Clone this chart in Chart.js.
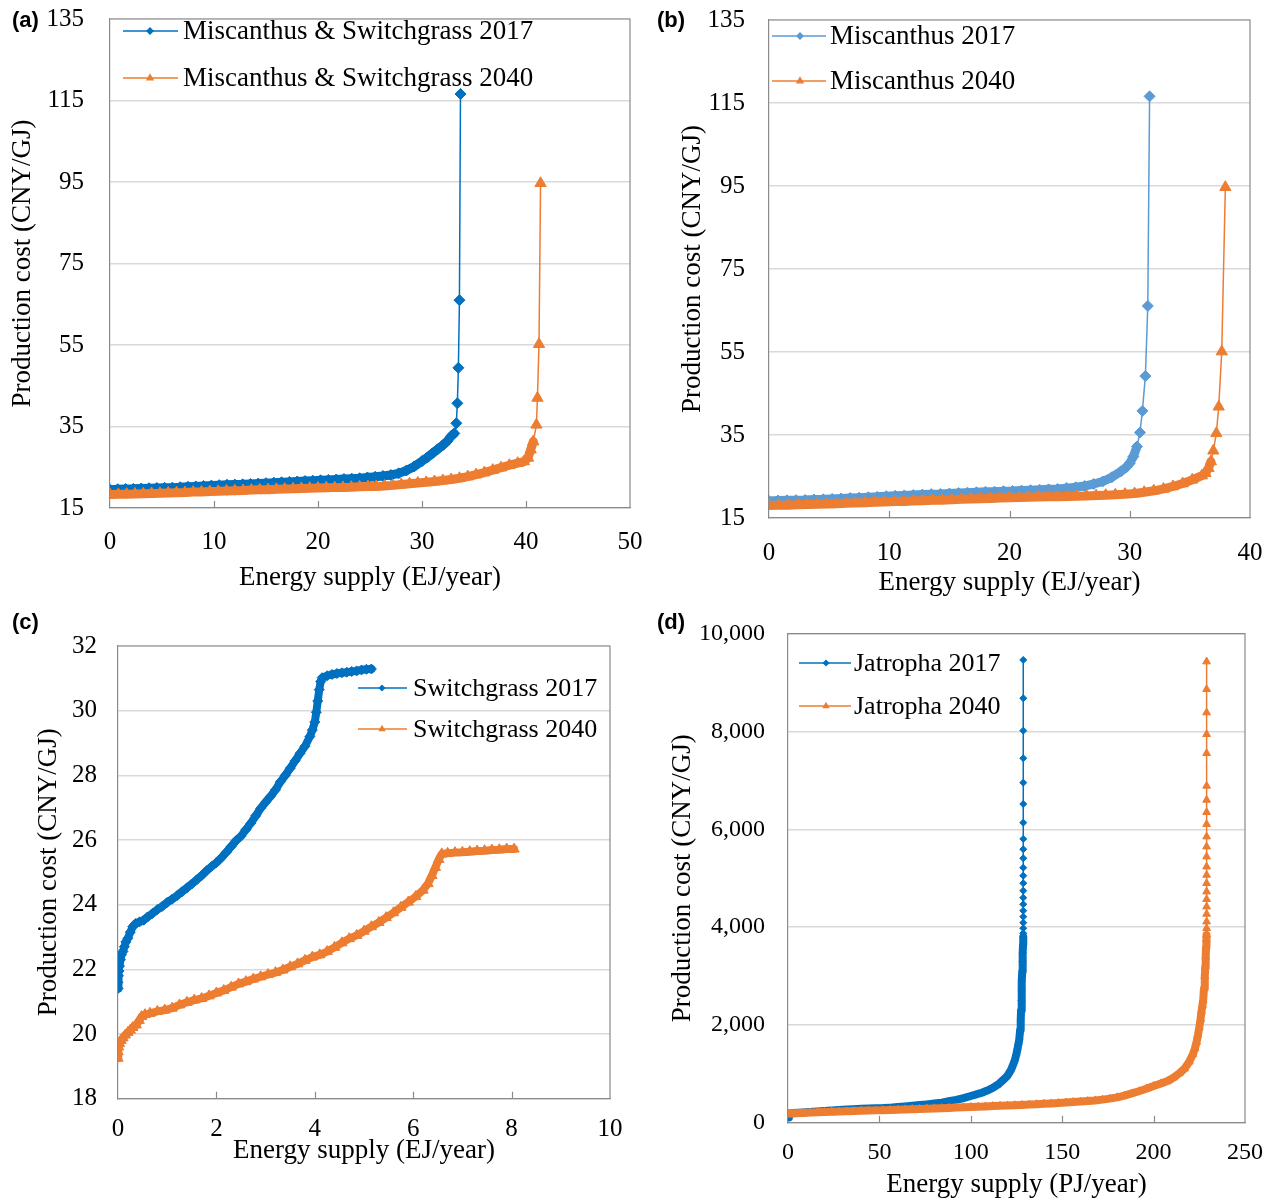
<!DOCTYPE html>
<html><head><meta charset="utf-8">
<script src="https://cdn.jsdelivr.net/npm/chart.js@4.4.1/dist/chart.umd.min.js"></script>
<style>
html,body{margin:0;padding:0;background:#fff;}
body{width:1274px;height:1201px;position:relative;overflow:hidden;}
canvas{position:absolute;}
.lbl{position:absolute;font:bold 22px "Liberation Sans",Arial,sans-serif;color:#000;line-height:26px;}
</style></head><body>
<canvas id="ca" width="660" height="600" style="left:0;top:0"></canvas>
<canvas id="cb" width="634" height="600" style="left:640px;top:0"></canvas>
<canvas id="cc" width="640" height="601" style="left:0;top:600px"></canvas>
<canvas id="cd" width="634" height="601" style="left:640px;top:600px"></canvas>
<div class="lbl" style="left:12px;top:7px">(a)</div>
<div class="lbl" style="left:657px;top:7px">(b)</div>
<div class="lbl" style="left:12px;top:609px">(c)</div>
<div class="lbl" style="left:657px;top:609px">(d)</div>
<script>
// ---------- DATA ----------
// (a) Miscanthus & Switchgrass
const aLabels = ['Miscanthus & Switchgrass 2017', 'Miscanthus & Switchgrass 2040'];
const aX17 = [0,0.75,1.5,2.25,3,3.75,4.5,5.25,6,6.75,7.5,8.25,9,9.75,10.5,11.25,12,12.75,13.5,14.25,15,15.75,16.5,17.25,18,18.75,19.5,20.25,21,21.75,22.5,23.25,24,24.75,25.5,26.25,27,27.75,28.5,29.25,30,30.5,31,31.5,32,32.4,32.8,33.1,33.3,33.4,33.5,33.6,33.7];
const aY17 = [19.5,19.6,19.65,19.7,19.8,19.85,19.9,19.95,20.0,20.1,20.2,20.3,20.4,20.5,20.6,20.7,20.75,20.8,20.9,21.0,21.1,21.2,21.3,21.4,21.5,21.6,21.7,21.8,21.9,22.0,22.1,22.2,22.3,22.5,22.65,22.85,23.1,23.5,24.2,25.2,26.5,27.4,28.4,29.4,30.4,31.3,32.6,33.3,35.8,40.7,49.4,66.0,116.6];
const aX40 = [0,0.8,1.6,2.4,3.2,4,4.8,5.6,6.4,7.2,8,8.8,9.6,10.4,11.2,12,12.8,13.6,14.4,15.2,16,16.8,17.6,18.4,19.2,20,20.8,21.6,22.4,23.2,24,24.8,25.6,26.4,27.2,28,28.8,29.6,30.4,31.2,32,32.8,33.6,34.4,35.2,36,36.8,37.6,38.4,39.2,39.8,40.2,40.45,40.7,41.0,41.1,41.25,41.4];
const aY40 = [18.3,18.35,18.4,18.45,18.5,18.55,18.6,18.7,18.75,18.8,18.9,18.95,19.05,19.1,19.2,19.25,19.3,19.4,19.45,19.5,19.6,19.65,19.7,19.8,19.85,19.9,19.95,20.0,20.05,20.1,20.2,20.25,20.3,20.4,20.55,20.75,20.95,21.15,21.3,21.5,21.75,22.0,22.3,22.7,23.2,23.7,24.3,24.9,25.5,26.0,26.4,27.3,29.3,31.3,35.4,42.0,55.2,94.7];

// (b) Miscanthus
const bLabels = ['Miscanthus 2017', 'Miscanthus 2040'];
const bX17 = [0,0.75,1.5,2.25,3,3.75,4.5,5.25,6,6.75,7.5,8.25,9,9.75,10.5,11.25,12,12.75,13.5,14.25,15,15.75,16.5,17.25,18,18.75,19.5,20.25,21,21.75,22.5,23.25,24,24.75,25.5,26.25,27,27.75,28.5,29.25,29.7,30.0,30.3,30.6,30.85,31.05,31.3,31.5,31.65];
const bY17 = [19.1,19.2,19.25,19.3,19.35,19.45,19.5,19.6,19.7,19.8,19.9,20.0,20.1,20.25,20.35,20.45,20.55,20.65,20.75,20.8,20.9,21.0,21.1,21.2,21.3,21.35,21.45,21.5,21.6,21.7,21.8,21.9,22.0,22.2,22.4,22.7,23.2,23.8,24.8,26.2,27.2,28.2,29.8,32.2,35.6,40.8,49.2,66.1,116.6];
const bX40 = [0,0.8,1.6,2.4,3.2,4,4.8,5.6,6.4,7.2,8,8.8,9.6,10.4,11.2,12,12.8,13.6,14.4,15.2,16,16.8,17.6,18.4,19.2,20,20.8,21.6,22.4,23.2,24,24.8,25.6,26.4,27.2,28,28.8,29.6,30.4,31.2,32,32.8,33.6,34.4,35.2,36,36.3,36.55,36.75,36.95,37.2,37.4,37.65,37.95];
const bY40 = [18.0,18.05,18.1,18.2,18.25,18.3,18.4,18.45,18.55,18.6,18.7,18.8,18.85,18.95,19.0,19.1,19.15,19.25,19.3,19.4,19.5,19.55,19.65,19.7,19.8,19.9,19.95,20.0,20.05,20.1,20.15,20.2,20.25,20.3,20.4,20.5,20.6,20.75,20.9,21.2,21.55,22.0,22.6,23.3,24.2,25.2,25.8,27.0,28.6,31.2,35.4,41.8,55.1,94.7];

// (c) Switchgrass
const cLabels = ['Switchgrass 2017', 'Switchgrass 2040'];
const cX17 = [0,0,0.01,0.02,0.03,0.05,0.07,0.1,0.13,0.16,0.2,0.25,0.3,0.36,0.44,0.52,0.6,0.7,0.8,0.9,1.0,1.1,1.2,1.3,1.4,1.5,1.6,1.7,1.8,1.9,2.0,2.1,2.2,2.3,2.4,2.5,2.6,2.7,2.8,2.9,3.0,3.1,3.2,3.3,3.4,3.5,3.6,3.7,3.8,3.9,3.95,4.0,4.03,4.06,4.09,4.12,4.15,4.25,4.35,4.45,4.55,4.65,4.75,4.85,4.95,5.05,5.15];
const cY17 = [21.41,21.6,21.8,21.95,22.1,22.3,22.45,22.55,22.7,22.85,22.96,23.15,23.32,23.42,23.47,23.52,23.62,23.73,23.85,23.95,24.07,24.17,24.28,24.4,24.52,24.64,24.77,24.9,25.05,25.18,25.3,25.45,25.62,25.8,25.98,26.12,26.32,26.52,26.75,26.98,27.17,27.35,27.55,27.8,28.0,28.22,28.45,28.68,28.9,29.2,29.4,29.65,29.95,30.3,30.65,30.9,31.02,31.08,31.12,31.15,31.17,31.19,31.21,31.23,31.26,31.28,31.29];
const cX40 = [0,0,0.01,0.03,0.06,0.1,0.15,0.2,0.25,0.3,0.37,0.43,0.48,0.55,0.65,0.8,0.95,1.1,1.25,1.4,1.55,1.7,1.85,2.0,2.15,2.3,2.45,2.6,2.75,2.9,3.05,3.2,3.35,3.5,3.65,3.8,3.95,4.1,4.25,4.4,4.55,4.7,4.85,5.0,5.15,5.3,5.45,5.6,5.75,5.9,6.05,6.2,6.3,6.38,6.45,6.52,6.58,6.7,6.85,7.0,7.15,7.3,7.45,7.6,7.75,7.9,8.05];
const cY40 = [19.25,19.45,19.6,19.7,19.8,19.88,19.97,20.05,20.12,20.2,20.28,20.42,20.54,20.6,20.64,20.7,20.74,20.8,20.9,20.98,21.05,21.1,21.18,21.27,21.35,21.45,21.55,21.62,21.7,21.77,21.84,21.9,21.98,22.08,22.17,22.28,22.38,22.45,22.55,22.68,22.82,22.95,23.05,23.18,23.32,23.45,23.6,23.75,23.92,24.08,24.25,24.45,24.65,24.9,25.15,25.4,25.57,25.59,25.61,25.62,25.64,25.66,25.67,25.69,25.7,25.72,25.72];

// (d) Jatropha
const dLabels = ['Jatropha 2017', 'Jatropha 2040'];
const dX17 = [0,0.5,4,8,12,16,20,24,28,32,
  36,40,44,48,52,56,60,64,68,72,
  76,80,84,88,92,96,100,103,106,109,
  112,115,117.5,120,122,124,124.8,125.5,126.0,126.5,
  127.0,127.3,127.5,127.7,127.85,128.0,128.15,128.3,128.45,128.6,
  128.7,
  128.7,128.7,128.7,128.7,128.7,128.7,128.7,128.7,128.7,128.7,
  128.7,128.7,128.7,128.7,128.7,128.7,128.7,128.7,128.7,128.7,
  128.7];
const dY17 = [110,190,200,210,220,230,240,250,260,270,
  279,286,291,296,301,310,322,335,348,362,
  377,393,412,440,470,505,548,580,615,660,
  712,785,868,960,1080,1270,1380,1500,1600,1700,
  1900,2100,2300,2500,2700,2900,3100,3300,3480,3650,
  3800,
  3875,3978,4092,4215,4337,4468,4603,4746,4898,5053,
  5217,5409,5593,5804,6137,6519,6955,7454,8018,8681,
  9464];
const dX40 = [0,4,8,12,16,20,24,28,32,36,
  40,44,48,52,56,60,64,68,72,76,
  80,84,88,92,96,100,104,108,112,116,
  120,124,128,132,136,140,144,148,152,156,
  160,164,168,172,176,180,184,188,192,196,
  200,204,208,211,214,217,219.5,221.5,222.6,223.5,
  224.3,225,225.7,226.2,226.7,227.1,227.6,228.0,228.3,228.5,
  228.7,228.85,229,
  229,229,229,229,229,229,229,229,229,229,
  229,229,229,229,229,229,229,229,229,229,
  229];
const dY40 = [185,195,202,208,214,219,224,229,234,239,
  244,249,254,259,264,269,274,279,284,289,
  294,299,305,311,317,323,329,335,341,347,
  353,360,366,373,380,388,396,405,414,424,
  434,446,458,474,494,520,555,600,645,695,
  750,805,860,925,1010,1110,1250,1400,1520,1650,
  1800,1950,2120,2280,2400,2500,2750,3000,3200,3400,
  3600,3750,3840,
  3978,4112,4270,4419,4571,4726,4898,5067,5237,5442,
  5646,5851,6104,6350,6601,6888,7556,7945,8387,8865,
  9430];

// ---------- STYLE ----------
const BLUE = '#0070C0', BLUE_L = '#5B9BD5', ORANGE = '#ED7D31';
const SERIF = '"Liberation Serif", "Times New Roman", serif';
const FRAME = '#8a8a8a';
Chart.defaults.font.family = SERIF;
Chart.defaults.color = '#000';

function pts(xs, ys) { return xs.map((x, i) => ({x: x, y: ys[i]})); }

function drawMarker(ctx, style, x, y, r) {
  ctx.beginPath();
  if (style === 'rectRot') {
    ctx.moveTo(x - r, y); ctx.lineTo(x, y - r); ctx.lineTo(x + r, y); ctx.lineTo(x, y + r);
  } else {
    let rad = 0;
    ctx.moveTo(x + Math.sin(rad) * r, y - Math.cos(rad) * r);
    rad += 2 * Math.PI / 3;
    ctx.lineTo(x + Math.sin(rad) * r, y - Math.cos(rad) * r);
    rad += 2 * Math.PI / 3;
    ctx.lineTo(x + Math.sin(rad) * r, y - Math.cos(rad) * r);
  }
  ctx.closePath();
  ctx.fill();
}

const framePlugin = {
  id: 'frame',
  beforeDatasetsDraw(chart) {
    const {ctx, chartArea: ca} = chart;
    const x = chart.scales.x;
    ctx.save();
    ctx.strokeStyle = FRAME; ctx.lineWidth = 1.2;
    ctx.beginPath();
    ctx.moveTo(ca.left, ca.top); ctx.lineTo(ca.right, ca.top); ctx.lineTo(ca.right, ca.bottom);
    ctx.stroke();
    x.ticks.forEach((t, i) => {
      if (i === 0 || i === x.ticks.length - 1) return;
      const px = Math.round(x.getPixelForValue(t.value)) + 0.5;
      ctx.beginPath(); ctx.moveTo(px, ca.bottom); ctx.lineTo(px, ca.bottom - 7); ctx.stroke();
    });
    ctx.restore();
  },
  afterDraw(chart, args, opts) {
    const L = opts.legend;
    if (!L) return;
    const ctx = chart.ctx;
    ctx.save();
    chart.data.datasets.forEach((ds, i) => {
      const y = L.rows[i];
      ctx.strokeStyle = ds.pointBackgroundColor; ctx.fillStyle = ds.pointBackgroundColor; ctx.lineWidth = 1.5;
      ctx.beginPath(); ctx.moveTo(L.x1, y); ctx.lineTo(L.x2, y); ctx.stroke();
      drawMarker(ctx, ds.pointStyle, L.mx, y, ds.pointStyle === 'rectRot' ? L.r : L.r + 0.8);
      ctx.fillStyle = '#000';
      ctx.font = L.size + 'px ' + SERIF;
      ctx.textBaseline = 'middle'; ctx.textAlign = 'left';
      ctx.fillText(ds.label, L.tx, y + 1);
    });
    ctx.restore();
  }
};

// where consecutive markers overlap (dense part of the curve) they form a solid band
function ds(label, xs, ys, color, style, r, order, band, thr, cap) {
  return {
    label: label, data: pts(xs, ys), showLine: true,
    borderColor: color, backgroundColor: color, borderWidth: 1.5,
    borderCapStyle: 'round', borderJoinStyle: 'round',
    segment: {
      borderWidth: s => ((Math.hypot(s.p1.x - s.p0.x, s.p1.y - s.p0.y) < thr && ys[s.p1DataIndex] <= cap) ? band : 1.5)
    },
    pointStyle: style, pointRadius: r, pointHoverRadius: r,
    pointBackgroundColor: color, pointBorderColor: color, pointBorderWidth: 1,
    tension: 0, order: order
  };
}

function makeChart(id, c) {
  new Chart(document.getElementById(id), {
    type: 'scatter',
    data: {datasets: c.datasets},
    options: {
      responsive: false, animation: false, events: [],
      layout: {padding: c.pad},
      plugins: {legend: {display: false}, tooltip: {enabled: false}, frame: {legend: c.legend}},
      scales: {
        x: {
          type: 'linear', min: c.xmin, max: c.xmax,
          ticks: {stepSize: c.xstep, padding: c.xtp, color: '#000', maxRotation: 0, autoSkip: false,
                  font: {family: SERIF, size: c.tick}},
          grid: {display: true, drawOnChartArea: false, drawTicks: false},
          border: {display: true, color: FRAME, width: 1.2},
          title: {display: true, text: c.xtitle, color: '#000', font: {family: SERIF, size: 27},
                  padding: {top: 0, bottom: c.xtb}},
          afterFit(s) { s.height = c.xh; s.paddingLeft = 0; s.paddingRight = 0; }
        },
        y: {
          type: 'linear', min: c.ymin, max: c.ymax,
          ticks: {stepSize: c.ystep, padding: c.ytp, color: '#000', font: {family: SERIF, size: c.tick}},
          grid: {color: '#d9d9d9', lineWidth: 1.5, drawTicks: false},
          border: {display: true, color: FRAME, width: 1.2},
          title: {display: true, text: 'Production cost (CNY/GJ)', color: '#000', font: {family: SERIF, size: 27},
                  padding: {top: c.ytt, bottom: 0}},
          afterFit(s) { s.width = c.yw; s.paddingTop = 0; s.paddingBottom = 0; }
        }
      }
    },
    plugins: [framePlugin]
  });
}

makeChart('ca', {
  datasets: [ds(aLabels[0], aX17, aY17, BLUE, 'rectRot', 5.5, 1, 9, 10, Infinity), ds(aLabels[1], aX40, aY40, ORANGE, 'triangle', 6.5, 0, 9, 10, Infinity)],
  pad: {left: 0, top: 19, right: 30, bottom: 0},
  xmin: 0, xmax: 50, xstep: 10, ymin: 15, ymax: 135, ystep: 20,
  tick: 25, xtp: 19, ytp: 26, xh: 92, yw: 110, xtb: 6, ytt: 7,
  xtitle: 'Energy supply (EJ/year)',
  legend: {rows: [31, 78], x1: 123, x2: 178, mx: 150, tx: 183, r: 4, size: 27}
});
makeChart('cb', {
  datasets: [ds(bLabels[0], bX17, bY17, BLUE_L, 'rectRot', 5.5, 1, 9, 11, Infinity), ds(bLabels[1], bX40, bY40, ORANGE, 'triangle', 6.5, 0, 9, 11, Infinity)],
  pad: {left: 0, top: 20, right: 24, bottom: 0},
  xmin: 0, xmax: 40, xstep: 10, ymin: 15, ymax: 135, ystep: 20,
  tick: 25, xtp: 20, ytp: 24, xh: 82, yw: 129, xtb: 1, ytt: 37,
  xtitle: 'Energy supply (EJ/year)',
  legend: {rows: [36, 81], x1: 132, x2: 186, mx: 160, tx: 190, r: 4, size: 27}
});
makeChart('cc', {
  datasets: [ds(cLabels[0], cX17, cY17, BLUE, 'rectRot', 5, 1, 8, 12, Infinity), ds(cLabels[1], cX40, cY40, ORANGE, 'triangle', 6, 0, 8, 12, Infinity)],
  pad: {left: 0, top: 46, right: 30, bottom: 0},
  xmin: 0, xmax: 10, xstep: 2, ymin: 18, ymax: 32, ystep: 2,
  tick: 25, xtp: 16, ytp: 21, xh: 102.3, yw: 118, xtb: 34, ytt: 33,
  xtitle: 'Energy supply (EJ/year)',
  legend: {rows: [88, 129], x1: 358, x2: 407, mx: 382, tx: 413, r: 3.5, size: 26}
});
makeChart('cd', {
  datasets: [ds(dLabels[0], dX17, dY17, BLUE, 'rectRot', 3.5, 1, 8, 14, 3800), ds(dLabels[1], dX40, dY40, ORANGE, 'triangle', 4.5, 0, 8, 14, 3850)],
  pad: {left: 0, top: 33.7, right: 29, bottom: 0},
  xmin: 0, xmax: 250, xstep: 50, ymin: 0, ymax: 10000, ystep: 2000,
  tick: 24, xtp: 16, ytp: 23, xh: 78.2, yw: 148, xtb: 0, ytt: 27,
  xtitle: 'Energy supply (PJ/year)',
  legend: {rows: [63, 106], x1: 159, x2: 211, mx: 186, tx: 214, r: 3.5, size: 26}
});
</script>
</body></html>
